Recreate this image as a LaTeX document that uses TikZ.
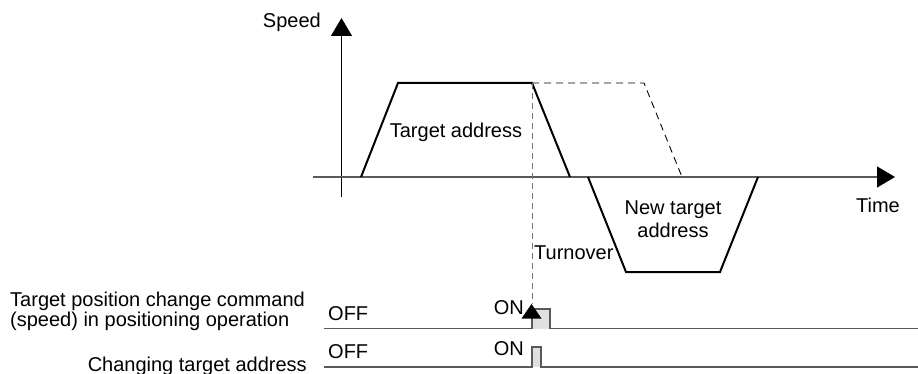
\documentclass[tikz,border=0pt]{standalone}
\usepackage{fontspec}
\setmainfont{Liberation Sans}
\usetikzlibrary{arrows.meta}
\begin{document}
\begin{tikzpicture}[x=1pt,y=-1pt,
  font=\fontsize{20}{20}\selectfont,
  every node/.style={inner sep=0pt},
  lbl/.style={text=black},
  profile/.style={line width=2pt,black,line join=miter},
  axisv/.style={line width=1.2pt,black},
  axish/.style={line width=1.2pt,black!65},
  sig/.style={line width=1.2pt,black!65},
  pulse/.style={fill=black!12},
  ghost/.style={line width=0.9pt,black,dash pattern=on 7pt off 5pt},
  guide/.style={line width=1pt,black!55,dash pattern=on 6pt off 4pt},
  bigtip/.style={-{Triangle[length=18pt,width=21pt,black]}}
]
\useasboundingbox (0,0) rectangle (918,374);

% coordinates
\coordinate (vb) at (341.5,197);
\coordinate (vt) at (341.5,18);
\coordinate (hl) at (313,177);
\coordinate (hr) at (895,177);

% axes
\draw[axisv,bigtip] (vb) -- (vt);
\draw[axish,bigtip] (hl) -- (hr);

% first (original) profile
\coordinate (a0) at (361,177);
\coordinate (a1) at (398,83);
\coordinate (a2) at (532,83);
\coordinate (a3) at (570,177);
\draw[profile] (a0) -- (a1) -- (a2) -- (a3);

% planned continuation (dashed)
\coordinate (d1) at (644,83);
\coordinate (d2) at (682,177);
\draw[ghost] (a2) -- (d1) -- (d2);

% new profile (reverse)
\coordinate (b0) at (588,177);
\coordinate (b1) at (626,272);
\coordinate (b2) at (720,272);
\coordinate (b3) at (758,177);
\draw[profile] (b0) -- (b1) -- (b2) -- (b3);

% signals
\fill[pulse] (532,309) rectangle (550,328.5);
\fill[pulse] (532,347) rectangle (541,367);
\coordinate (s1) at (324,328.5);
\coordinate (s1e) at (918,328.5);
\coordinate (s2) at (324,367);
\coordinate (s2e) at (918,367);
\draw[sig] (s1) -- (532,328.5) -- (532,309) -- (550,309) -- (550,328.5) -- (s1e);
\draw[sig] (s2) -- (532,367) -- (532,347) -- (541,347) -- (541,367) -- (s2e);

% guide line and trigger arrow
\coordinate (tip) at (531.5,304);
\draw[guide] (a2) -- (532,304);
\fill[black] (521.5,318.5) -- (tip) -- (541.5,318.5) -- cycle;

% texts
\node[lbl,anchor=base east] (speed) at (321,28) {Speed};
\node[lbl,anchor=base] (tgt) at (456,138) {Target address};
\node[lbl,anchor=north,align=center,font=\fontsize{20}{23}\selectfont] (newtgt) at (673,201) {New target\\address};
\node[lbl,anchor=base west] (turn) at (534,259) {Turnover};
\node[lbl,anchor=base] (time) at (878,212) {Time};
\node[lbl,anchor=north west,align=left] (cmd) at (10,292) {Target position change command\\(speed) in positioning operation};
\node[lbl,anchor=base east] (chg) at (307,371) {Changing target address};
\node[lbl,anchor=base west] (off1) at (328,320) {OFF};
\node[lbl,anchor=base west] (off2) at (328,358.5) {OFF};
\node[lbl,anchor=base east] (on1) at (524,314) {ON};
\node[lbl,anchor=base east] (on2) at (524,355) {ON};
\end{tikzpicture}
\end{document}
